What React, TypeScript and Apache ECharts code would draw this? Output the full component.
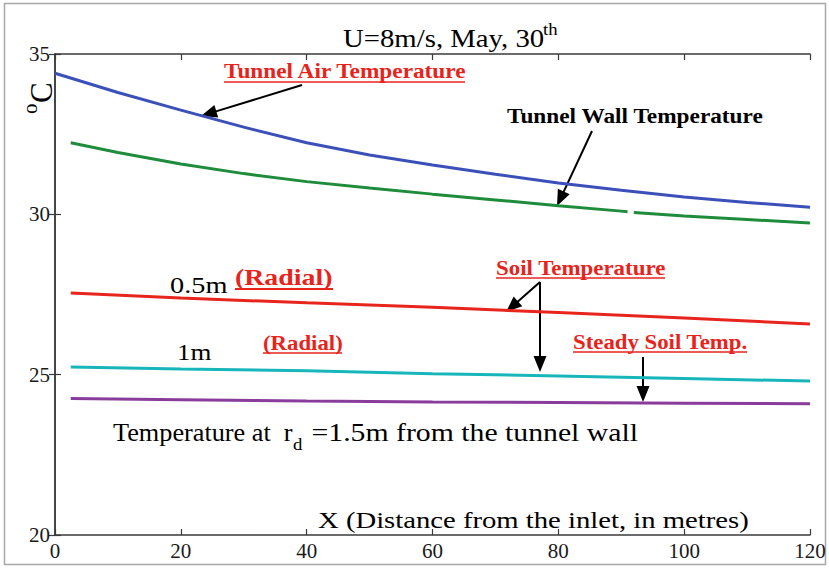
import React, { useEffect, useRef } from "react";
import * as echarts from "echarts";

// ---- data ----
const xTicks = [0, 20, 40, 60, 80, 100, 120];
const yTicks = [20, 25, 30, 35];

const airX = [0, 10, 20, 30, 40, 50, 60, 70, 80, 90, 100, 110, 120];
const airT = [34.4, 33.8, 33.25, 32.72, 32.23, 31.85, 31.54, 31.25, 30.98, 30.75, 30.54, 30.37, 30.22];

const wallX = [2.5, 10, 20, 30, 40, 50, 60, 70, 80, 90, 91, 91.4, 92, 100, 110, 120];
const wallT = [32.23, 31.93, 31.57, 31.27, 31.02, 30.82, 30.63, 30.45, 30.27, 30.1, 30.08, null, 30.06, 29.95, 29.84, 29.73];

const soilX = [2.5, 20, 40, 60, 80, 100, 120];
const soil05T = [27.55, 27.39, 27.24, 27.1, 26.94, 26.77, 26.58];
const soil1T = [25.24, 25.18, 25.12, 25.03, 24.96, 24.88, 24.8];
const steadyT = [24.26, 24.22, 24.18, 24.15, 24.13, 24.11, 24.09];

const SERIF = "Liberation Serif, Times New Roman, serif";
const RED = "#e8231c";

function pairs(xs: number[], ys: (number | null)[]) {
  return xs.map((x, i) => [x, ys[i] === null ? "-" : ys[i]]);
}

function arrow(x1: number, y1: number, x2: number, y2: number) {
  const L = 16;
  const W = 6.5;
  const dx = x2 - x1;
  const dy = y2 - y1;
  const len = Math.sqrt(dx * dx + dy * dy);
  const ux = dx / len;
  const uy = dy / len;
  const nx = -uy;
  const ny = ux;
  const bx = x2 - ux * L;
  const by = y2 - uy * L;
  return [
    {
      type: "line",
      shape: { x1, y1, x2: bx + ux * 2, y2: by + uy * 2 },
      style: { stroke: "#000", lineWidth: 2 },
      silent: true,
    },
    {
      type: "polygon",
      shape: {
        points: [
          [x2, y2],
          [bx + nx * W, by + ny * W],
          [bx - nx * W, by - ny * W],
        ],
      },
      style: { fill: "#000" },
      silent: true,
    },
  ];
}

function txt(
  text: string,
  x: number,
  baseline: number,
  size: number,
  opts: { bold?: boolean; color?: string; scaleX?: number; align?: string } = {}
) {
  return {
    type: "text",
    x,
    y: baseline - size * 0.34,
    scaleX: opts.scaleX ?? 1,
    silent: true,
    style: {
      text,
      fill: opts.color ?? "#000",
      fontSize: size,
      fontFamily: SERIF,
      fontWeight: opts.bold ? "bold" : "normal",
      align: opts.align ?? "left",
      verticalAlign: "middle",
      textAlign: opts.align ?? "left",
      textVerticalAlign: "middle",
    },
  };
}

function underline(x1: number, x2: number, y: number, w = 1.6) {
  return {
    type: "line",
    shape: { x1, y1: y, x2, y2: y },
    style: { stroke: RED, lineWidth: w },
    silent: true,
  };
}

export default function App() {
  const ref = useRef<HTMLDivElement>(null);

  useEffect(() => {
    if (!ref.current) return;
    const chart = echarts.init(ref.current, undefined, { renderer: "svg" });

    const axisLine = { show: true, lineStyle: { color: "#3a3a3a", width: 1.5 } };
    const axisTick = { show: true, inside: true, length: 6, lineStyle: { color: "#3a3a3a", width: 1.2 } };
    const axisLabel = { fontFamily: SERIF, fontSize: 21, color: "#1a1a1a" };

    const lineSeries = (name: string, data: any[], color: string) => ({
      name,
      type: "line",
      data,
      showSymbol: false,
      symbol: "none",
      smooth: false,
      connectNulls: false,
      lineStyle: { color, width: 3 },
      itemStyle: { color },
      silent: true,
      z: 3,
    });

    const option: any = {
      animation: false,
      backgroundColor: "#ffffff",
      grid: { left: 55, right: 19, top: 54, bottom: 33, containLabel: false },
      xAxis: [
        {
          type: "value",
          position: "bottom",
          min: xTicks[0],
          max: xTicks[xTicks.length - 1],
          interval: 20,
          axisLine,
          axisTick,
          axisLabel: { ...axisLabel, margin: 5 },
          splitLine: { show: false },
        },
        {
          type: "value",
          position: "top",
          min: xTicks[0],
          max: xTicks[xTicks.length - 1],
          interval: 20,
          axisLine,
          axisTick,
          axisLabel: { show: false },
          splitLine: { show: false },
        },
      ],
      yAxis: [
        {
          type: "value",
          position: "left",
          min: yTicks[0],
          max: yTicks[yTicks.length - 1],
          interval: 5,
          axisLine,
          axisTick,
          axisLabel: { ...axisLabel, margin: 5 },
          splitLine: { show: false },
        },
        {
          type: "value",
          position: "right",
          min: yTicks[0],
          max: yTicks[yTicks.length - 1],
          interval: 5,
          axisLine,
          axisTick,
          axisLabel: { show: false },
          splitLine: { show: false },
        },
      ],
      series: [
        lineSeries("Tunnel Air Temperature", pairs(airX, airT), "#3b50b8"),
        lineSeries("Tunnel Wall Temperature", pairs(wallX, wallT), "#1f8c3b"),
        lineSeries("Soil 0.5m", pairs(soilX, soil05T), "#e8251c"),
        lineSeries("Soil 1m", pairs(soilX, soil1T), "#17b6bb"),
        lineSeries("Steady Soil Temp.", pairs(soilX, steadyT), "#8a3c9c"),
      ],
      graphic: [
        {
          type: "rect",
          shape: { x: 4.5, y: 3.5, width: 821, height: 561 },
          style: { fill: "none", stroke: "#a8a8a8", lineWidth: 1.5 },
          silent: true,
          z: -1,
        },
        // title
        txt("U=8m/s, May, 30", 343, 47, 25, { scaleX: 1.15 }),
        txt("th", 543, 35, 17, { scaleX: 1.1 }),
        // y unit, rotated (reads bottom to top)
        {
          type: "group",
          x: 41,
          y: 114,
          rotation: Math.PI / 2,
          silent: true,
          children: [
            {
              type: "text",
              x: 0,
              y: -11,
              style: {
                text: "o",
                fill: "#000",
                fontSize: 21,
                fontFamily: SERIF,
                align: "left",
                verticalAlign: "middle",
                textAlign: "left",
                textVerticalAlign: "middle",
              },
            },
            {
              type: "text",
              x: 11,
              y: 0,
              style: {
                text: "C",
                fill: "#000",
                fontSize: 31,
                fontFamily: SERIF,
                align: "left",
                verticalAlign: "middle",
                textAlign: "left",
                textVerticalAlign: "middle",
              },
            },
          ],
        },
        // annotations
        txt("Tunnel Air Temperature", 224, 78, 20, { bold: true, color: RED, scaleX: 1.165 }),
        underline(224, 465, 82),
        ...arrow(302, 85, 201, 116),
        txt("Tunnel Wall Temperature", 507, 123, 20, { bold: true, scaleX: 1.165 }),
        ...arrow(592, 131, 557, 206),
        txt("0.5m", 170, 293, 24, { scaleX: 1.18 }),
        txt("(Radial)", 235, 285, 24, { bold: true, color: RED, scaleX: 1.16 }),
        underline(235, 333, 289, 1.8),
        txt("1m", 177, 360, 24, { scaleX: 1.12 }),
        txt("(Radial)", 263, 350, 20, { bold: true, color: RED, scaleX: 1.14 }),
        underline(263, 342, 353),
        txt("Soil Temperature", 496, 275, 20, { bold: true, color: RED, scaleX: 1.145 }),
        underline(496, 665, 278),
        ...arrow(540, 282, 506, 312),
        ...arrow(540, 282, 540, 372),
        txt("Steady Soil Temp.", 573, 349, 20, { bold: true, color: RED, scaleX: 1.14 }),
        underline(573, 747, 352),
        ...arrow(643, 357, 643, 402),
        txt("Temperature at  r", 113, 441, 25, { scaleX: 1.05 }),
        txt("d", 293, 450, 17, { scaleX: 1.1 }),
        txt("=1.5m from the tunnel wall", 638, 441, 25, { scaleX: 1.19, align: "right" }),
        txt("X (Distance from the inlet, in metres)", 318, 528, 24, { scaleX: 1.195 }),
      ],
    };

    chart.setOption(option);
    return () => chart.dispose();
  }, []);

  return (
    <div
      ref={ref}
      style={{ position: "absolute", left: 0, top: 0, width: 829, height: 568, background: "#fff" }}
    />
  );
}
